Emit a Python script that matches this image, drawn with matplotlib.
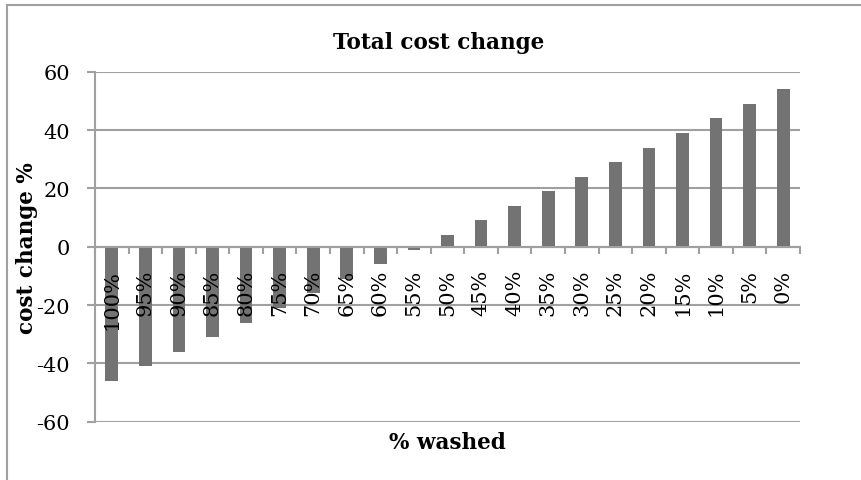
import numpy as np
import matplotlib
matplotlib.use("Agg")
import matplotlib.pyplot as plt
from matplotlib.lines import Line2D

categories = ['100%', '95%', '90%', '85%', '80%', '75%', '70%', '65%', '60%', '55%', '50%',
              '45%', '40%', '35%', '30%', '25%', '20%', '15%', '10%', '5%', '0%']
cost_change = [-46, -41, -36, -31, -26, -21, -16, -11, -6, -1, 4,
               9, 14, 19, 24, 29, 34, 39, 44, 49, 54]
y_ticks = [-60, -40, -20, 0, 20, 40, 60]

plt.rcParams['font.family'] = 'DejaVu Serif'
grey = '#a0a0a0'
bar_color = '#737373'

fig = plt.figure(figsize=(8.61, 4.81), dpi=100)
ax = fig.add_axes([95 / 861, 1 - 422.7 / 481, 705 / 861, 350 / 481])

x = np.arange(len(categories))
ax.bar(x, cost_change, width=0.38, color=bar_color, zorder=1)

for yv in y_ticks:
    ax.axhline(yv, color=grey, lw=1.5, zorder=0.5)

ax.set_xlim(-0.5, len(categories) - 0.5)
ax.set_ylim(-60, 60)
ax.set_axisbelow(False)

for s in ['top', 'right']:
    ax.spines[s].set_visible(False)
ax.spines['bottom'].set_position(('data', 0))
ax.spines['left'].set_color(grey)
ax.spines['bottom'].set_color(grey)
ax.spines['left'].set_linewidth(1.5)
ax.spines['bottom'].set_linewidth(1.5)

ax.set_yticks(y_ticks)
ax.set_yticklabels([str(v) for v in y_ticks], fontsize=15)
ax.tick_params(axis='y', direction='out', length=6, width=1.5, color=grey, pad=12)

ax.set_xticks(x)
ax.set_xticklabels(categories, rotation=90, fontsize=15)
ax.set_xticks(np.arange(-0.5, len(categories), 1), minor=True)
ax.tick_params(axis='x', which='major', length=0, pad=16)
ax.tick_params(axis='x', which='minor', direction='out', length=5, width=1.5, color=grey)
for lbl in ax.get_xticklabels():
    lbl.set_va('top')

fig.text(439 / 861, 1 - 43 / 481, 'Total cost change', ha='center', va='center',
         fontsize=15.5, fontweight='bold')
fig.text(447 / 861, 1 - 443 / 481, '% washed', ha='center', va='center',
         fontsize=15.5, fontweight='bold')
fig.text(27 / 861, 1 - 248 / 481, 'cost change %', ha='center', va='center',
         rotation=90, fontsize=15.5, fontweight='bold')

# chart frame (left and top edges visible)
fig.add_artist(Line2D([7 / 861, 7 / 861], [0, 1 - 6 / 481], transform=fig.transFigure,
                      color=grey, lw=1.5))
fig.add_artist(Line2D([7 / 861, 1], [1 - 6 / 481, 1 - 6 / 481], transform=fig.transFigure,
                      color=grey, lw=1.5))

fig.savefig('out.png', dpi=100)
